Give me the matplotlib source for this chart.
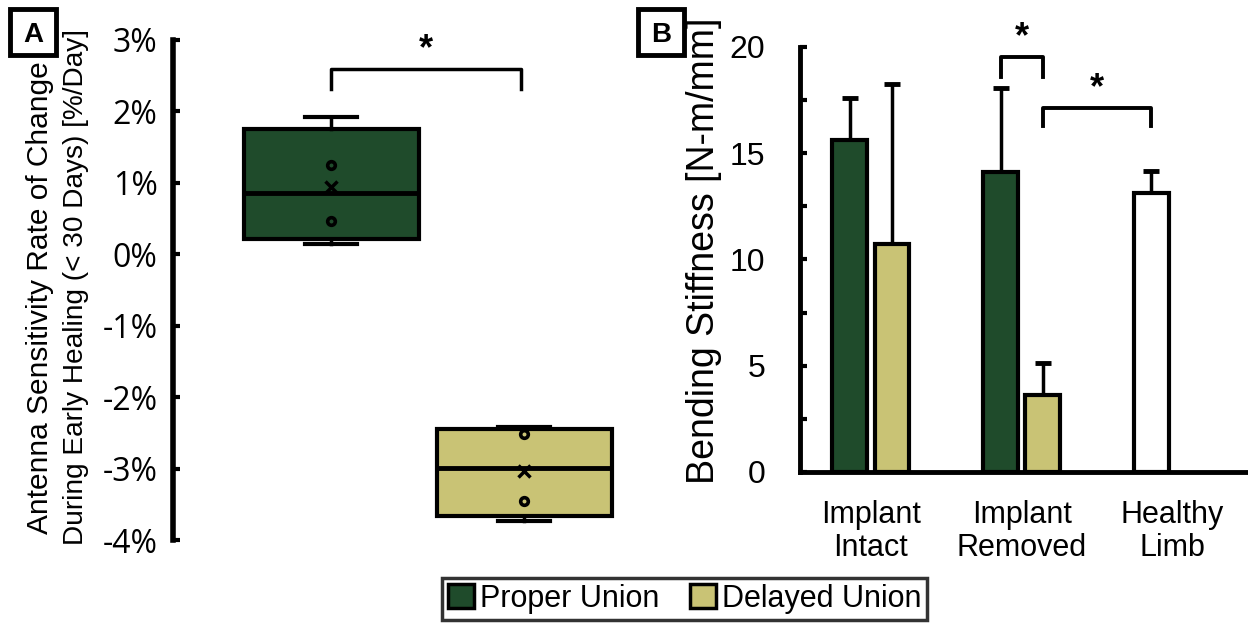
import numpy as np
import matplotlib
matplotlib.use("Agg")
import matplotlib.pyplot as plt
from matplotlib.patches import Patch, Rectangle

# Panel A: individual rate-of-change values [%/day]
groups_a = ["Proper Union", "Delayed Union"]
proper_pts = [0.14, 0.46, 1.25, 1.92]
delayed_pts = [-3.74, -3.45, -2.52, -2.42]
ylabel_a = ["Antenna Sensitivity Rate of Change", "During Early Healing (< 30 Days) [%/Day]"]

# Panel B: bending stiffness [N-m/mm]
categories_b = ["Implant\nIntact", "Implant\nRemoved", "Healthy\nLimb"]
proper_mean = [15.6, 14.1, 13.15]
proper_err = [2.0, 3.95, 1.0]
delayed_mean = [10.75, 3.6]
delayed_err = [7.5, 1.55]

GREEN = "#1f4b2b"
KHAKI = "#c9c375"
FONT_A = ["Open Sans", "DejaVu Sans"]
FONT_B = ["Liberation Sans", "DejaVu Sans"]

W, H = 1248, 623
fig = plt.figure(figsize=(W / 100, H / 100), dpi=100)

# ---------------- Panel A ----------------
axa = fig.add_axes([0.1386, 0.1332, 0.3665, 0.8026])

def box_stats(pts, label):
    pts = np.asarray(pts)
    q1, med, q3 = np.percentile(pts, [25, 50, 75], method="weibull")
    return dict(label=label, med=med, q1=q1, q3=q3,
                whislo=pts.min(), whishi=pts.max(), mean=pts.mean(), fliers=[])

stats = [box_stats(proper_pts, groups_a[0]), box_stats(delayed_pts, groups_a[1])]
bp = axa.bxp(stats, positions=[0, 1], widths=0.907, showmeans=True, patch_artist=True,
             capwidths=0.27,
             boxprops=dict(edgecolor="black", linewidth=3),
             medianprops=dict(color="black", linewidth=3.5),
             whiskerprops=dict(color="black", linewidth=2.5),
             capprops=dict(color="black", linewidth=3),
             meanprops=dict(marker="x", markeredgecolor="black", markersize=8,
                            markeredgewidth=2.5))
for patch, col in zip(bp["boxes"], [GREEN, KHAKI]):
    patch.set_facecolor(col)

# inner data points (those not at whisker ends)
for pos, pts, col in [(0, proper_pts, GREEN), (1, delayed_pts, KHAKI)]:
    inner = sorted(pts)[1:-1]
    axa.plot([pos] * len(inner), inner, "o", ms=5.5, mfc=col, mec="black", mew=2.6,
             linestyle="none")

# significance bracket
axa.plot([0, 0, 0.985, 0.985], [2.32, 2.59, 2.59, 2.32], color="black", lw=2.5)
axa.text(0.49, 2.62, "*", ha="center", va="bottom", fontsize=26, fontweight="bold",
         fontfamily=FONT_B)

axa.set_xlim(-0.82, 1.55)
axa.set_ylim(-4, 3)
axa.set_yticks(np.arange(-4, 4, 1))
axa.set_yticklabels([f"{v}%" for v in range(-4, 4)], fontfamily=FONT_A, fontsize=23)
axa.set_xticks([])
for side in ["top", "right", "bottom"]:
    axa.spines[side].set_visible(False)
axa.spines["left"].set_linewidth(4)
axa.tick_params(axis="y", direction="in", length=5, width=3, pad=11)

# two-line y label, each line placed on its own
for (bx, cy, fs), line in zip([(48, 298, 21.5), (83, 287, 20.2)], ylabel_a):
    fig.text(bx / W, 1 - cy / H, line, rotation=90, rotation_mode="anchor",
             ha="center", va="baseline", fontsize=fs, fontfamily=FONT_B)

# ---------------- Panel B ----------------
axb = fig.add_axes([0.641, 0.2424, 0.359, 0.6822])
x = np.arange(len(categories_b))
off = 0.14
w = 0.23
bar_colors = [GREEN, GREEN, "white"]
axb.bar(x - off, proper_mean, w, color=bar_colors, edgecolor="black", linewidth=3,
        zorder=3)
axb.errorbar(x - off, proper_mean, yerr=[np.zeros(3), proper_err], fmt="none",
             ecolor="black", elinewidth=2.5, capsize=5.5, capthick=3.5, zorder=2)
xd = x[:len(delayed_mean)] + off
axb.bar(xd, delayed_mean, w, color=KHAKI, edgecolor="black", linewidth=3, zorder=3)
axb.errorbar(xd, delayed_mean, yerr=[np.zeros(2), delayed_err], fmt="none",
             ecolor="black", elinewidth=2.5, capsize=5.5, capthick=3.5, zorder=2)

# significance brackets
axb.plot([1 - off, 1 - off, 1 + off, 1 + off], [18.6, 19.55, 19.55, 18.6], color="black", lw=2.8)
axb.text(1, 19.6, "*", ha="center", va="bottom", fontsize=26, fontweight="bold",
         fontfamily=FONT_B)
axb.plot([1 + off, 1 + off, 2 - off, 2 - off], [16.3, 17.15, 17.15, 16.3], color="black", lw=2.8)
axb.text(1.5, 17.2, "*", ha="center", va="bottom", fontsize=26, fontweight="bold",
         fontfamily=FONT_B)

axb.set_xlim(-0.47, 2.5)
axb.set_ylim(0, 20)
axb.set_yticks([0, 5, 10, 15, 20])
axb.set_yticks([2.5, 7.5, 12.5, 17.5], minor=True)
axb.set_yticklabels(["0", "5", "10", "15", "20"], fontfamily=FONT_B, fontsize=23)
axb.set_xticks(x)
axb.set_xticklabels(categories_b, fontfamily=FONT_B, fontsize=22, linespacing=1.15)
axb.tick_params(axis="x", length=0, pad=20)
axb.tick_params(axis="y", which="both", direction="in", length=5, width=3, pad=25)
for side in ["top", "right"]:
    axb.spines[side].set_visible(False)
axb.spines["left"].set_linewidth(3.5)
axb.spines["bottom"].set_linewidth(3.5)
axb.set_ylabel("Bending Stiffness [N-m/mm]", fontfamily=FONT_B, fontsize=27, labelpad=2)
axb.yaxis.set_label_coords(-0.175, 0.52)

# ---------------- panel letters & legend ----------------
for px, py, letter in [(10, 9, "A"), (638, 9, "B")]:
    fig.patches.append(Rectangle((px / W, 1 - (py + 46) / H), 46 / W, 46 / H,
                                 transform=fig.transFigure, fc="white", ec="black", lw=3.5,
                                 zorder=5))
    fig.text((px + 23) / W, 1 - (py + 23) / H, letter, ha="center", va="center_baseline",
             fontsize=20, fontweight="bold", fontfamily=FONT_B, zorder=6)

handles = [Patch(facecolor=GREEN, edgecolor="black", linewidth=2.5, label="Proper Union"),
           Patch(facecolor=KHAKI, edgecolor="black", linewidth=2.5, label="Delayed Union")]
leg = fig.legend(handles=handles, loc="lower center", bbox_to_anchor=(0.5485, -0.005), ncol=2,
                 frameon=True, fancybox=False, edgecolor="black", prop=dict(family=FONT_B, size=22),
                 handlelength=0.85, handleheight=0.85, handletextpad=0.2, columnspacing=1.0,
                 borderpad=0.2, borderaxespad=0.2)
leg.get_frame().set_linewidth(2.5)

fig.savefig("out.png", dpi=100)
